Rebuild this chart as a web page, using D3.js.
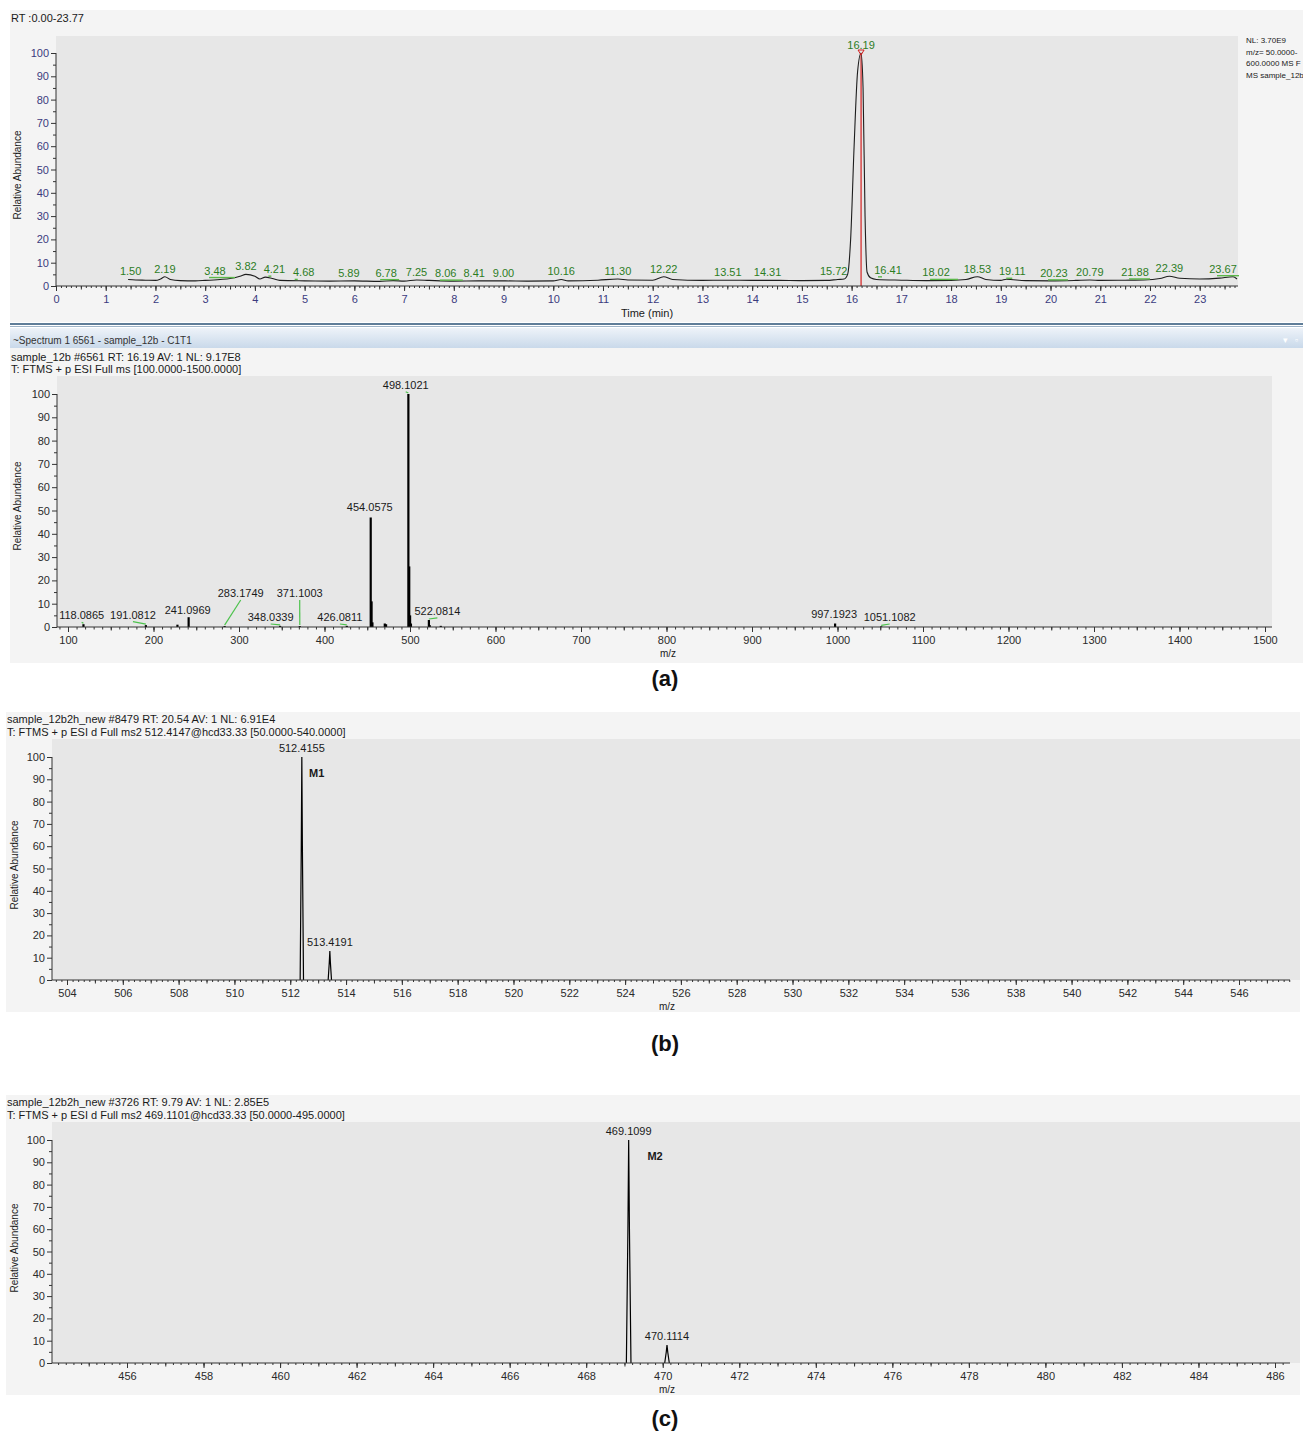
<!DOCTYPE html>
<html>
<head>
<meta charset="utf-8">
<script src="https://cdn.jsdelivr.net/npm/d3@7"></script>
<style>
body{margin:0;background:#fff;}
text{font-family:"Liberation Sans",Arial,sans-serif;}
</style>
</head>
<body>
<script>
// ---- chromatogram (a, top) ----
var chromTime = [1.45,1.6,1.8,2.0,2.1,2.19,2.3,2.5,2.8,3.0,3.3,3.5,3.7,3.82,4.0,4.1,4.21,4.35,4.5,5.0,5.5,6.0,6.5,6.78,7.0,7.25,7.5,8.0,8.5,9.0,9.5,10.0,10.16,10.3,10.9,11.3,11.5,12.0,12.22,12.4,13.0,13.5,14.0,14.5,15.0,15.5,15.72,15.85,15.92,15.98,16.05,16.12,16.19,16.23,16.27,16.31,16.38,16.5,17.0,17.5,18.0,18.3,18.53,18.7,19.0,19.11,19.5,20.0,20.5,20.79,21.0,21.5,21.88,22.2,22.39,22.6,23.0,23.4,23.67,23.75];
var chromAb   = [2.8,2.6,2.5,2.4,3.0,4.0,2.8,2.3,2.2,2.4,2.8,3.2,4.2,5.0,4.2,3.0,3.8,3.2,2.4,2.2,2.1,2.2,2.0,2.3,2.1,2.6,2.4,2.1,2.2,2.2,2.1,2.2,2.8,2.2,2.5,3.0,2.6,2.5,4.0,2.8,2.4,2.5,2.4,2.4,2.3,2.4,2.8,3.0,5,20,60,92,100,85,30,6,3.5,2.8,2.5,2.3,2.4,2.8,4.0,2.8,2.4,2.9,2.3,2.2,2.4,2.6,2.4,2.5,2.6,3.2,4.2,3.3,3.0,3.4,4.0,3.0];
var chromLabels = ["1.50","2.19","3.48","3.82","4.21","4.68","5.89","6.78","7.25","8.06","8.41","9.00","10.16","11.30","12.22","13.51","14.31","15.72","16.19","16.41","18.02","18.53","19.11","20.23","20.79","21.88","22.39","23.67"];
var chromMarked = ["3.48","4.21","4.68","6.78","8.06","16.41","18.02","19.11","20.23","21.88","23.67"];
var chromXTicks = [0,1,2,3,4,5,6,7,8,9,10,11,12,13,14,15,16,17,18,19,20,21,22,23];
var abTicks = [0,10,20,30,40,50,60,70,80,90,100];
var chromInfo = ["NL: 3.70E9","m/z= 50.0000-","600.0000 MS  F","MS sample_12b"];

// ---- full MS spectrum (a, bottom) ----
var specMz = [118.0865,191.0812,228.0,241.0969,283.1749,348.0339,371.1003,426.0811,454.0575,455.06,456.05,470.5,472.0,498.1021,499.105,500.1,501.1,522.0814,523.08,536.0,997.1923,1051.1082];
var specAb = [1.2,0.8,1.0,4.2,0.4,0.5,0.4,0.5,47,11,2,1.5,1.2,100,26,5,1.5,3,0.8,0.5,1.5,0.3];
var specLabels   = ["118.0865","191.0812","241.0969","283.1749","348.0339","371.1003","426.0811","454.0575","498.1021","522.0814","997.1923","1051.1082"];
var specLabelMz  = [116,176,240,302,337,371,418,453,495,532,996,1061];
var specLabelAb  = [5.0,5.3,7.3,14.6,4.3,14.6,4.3,51.5,104,6.9,5.6,4.3];
var specLeader = ["118.0865","191.0812","283.1749","348.0339","371.1003","426.0811","498.1021","522.0814","1051.1082"];
var specXTicks = [100,200,300,400,500,600,700,800,900,1000,1100,1200,1300,1400,1500];

// ---- MS2 M1 (b) ----
var m1Mz = [512.4155,513.4191];
var m1Ab = [100,13];
var m1XTicks = [504,506,508,510,512,514,516,518,520,522,524,526,528,530,532,534,536,538,540,542,544,546];

// ---- MS2 M2 (c) ----
var m2Mz = [469.1099,470.1114];
var m2Ab = [100,8];
var m2XTicks = [456,458,460,462,464,466,468,470,472,474,476,478,480,482,484,486];

var W = 1303, H = 1431;
var svg = d3.select("body").append("svg").attr("width",W).attr("height",H);

var panelBg = "#f4f4f4", plotBg = "#e7e7e7";
// pixel nudges for crowded chromatogram labels
var labelNudge = {"3.48":-14,"4.21":9,"4.68":15,"6.78":-7,"8.06":-11,"15.72":-4,"16.41":16,"18.02":-16,"19.11":6,"20.23":-8,"21.88":-9,"23.67":-10};

function txt(g,x,y,s,size,opt){
  opt = opt || {};
  return g.append("text").attr("x",x).attr("y",y)
    .attr("font-size",size).attr("fill",opt.fill||"#1a1a1a")
    .attr("text-anchor",opt.anchor||"start")
    .attr("font-weight",opt.weight||"normal")
    .attr("font-family",opt.family||null)
    .text(s);
}

// generic axes: y ticks every 10 (minor 5), x ticks with labels + minor steps
function drawAxes(g, x, y, o){
  var col = o.labelColor;
  var ya = g.append("g").attr("transform","translate("+x(x.domain()[0])+",0)");
  ya.append("g").call(d3.axisLeft(y).tickValues(abTicks).tickSize(5).tickPadding(2))
    .call(function(s){s.select(".domain").remove();});
  ya.append("g").call(d3.axisLeft(y).tickValues(d3.range(5,100,10)).tickSize(3).tickFormat(""))
    .call(function(s){s.select(".domain").remove();});
  ya.append("line").attr("y1",y(0)).attr("y2",y(100)).attr("stroke","#333");
  var xa = g.append("g").attr("transform","translate(0,"+y(0)+")");
  o.minor.forEach(function(m){
    var vals = d3.range(Math.ceil(x.domain()[0]/m[0])*m[0], x.domain()[1], m[0]);
    xa.append("g").call(d3.axisBottom(x).tickValues(vals).tickSize(m[1]).tickFormat(""))
      .call(function(s){s.select(".domain").remove();});
  });
  xa.append("g").call(d3.axisBottom(x).tickValues(o.ticks).tickSize(5).tickPadding(4).tickFormat(d3.format("d")))
    .call(function(s){s.select(".domain").remove();});
  xa.append("line").attr("x1",x(x.domain()[0])).attr("x2",x(x.domain()[1])).attr("stroke","#333");
  g.selectAll(".tick line").attr("stroke","#333");
  g.selectAll(".tick text").attr("fill",col).attr("font-size",11)
    .attr("font-family","'Liberation Sans',Arial,sans-serif");
}

// ================= panel (a) chromatogram =================
var gC = svg.append("g");
gC.append("rect").attr("x",10).attr("y",10).attr("width",W-10).attr("height",312).attr("fill",panelBg);
txt(gC,11,22,"RT :0.00-23.77",11);
var xC = d3.scaleLinear().domain([0,23.77]).range([56,1238]);
var yC = d3.scaleLinear().domain([0,100]).range([286,53]);
gC.append("rect").attr("x",xC(0)).attr("y",36).attr("width",xC(23.77)-xC(0)).attr("height",yC(0)-36).attr("fill",plotBg);
chromInfo.forEach(function(s,i){ txt(gC,1246,43+i*11.5,s,8); });

var chromPts = chromTime.map(function(t,i){return [t,chromAb[i]];});
var lineC = d3.line().x(function(d){return xC(d[0]);}).y(function(d){return yC(d[1]);}).curve(d3.curveMonotoneX);
gC.append("line").attr("x1",xC(16.19)).attr("x2",xC(16.19)).attr("y1",yC(100)).attr("y2",yC(0))
  .attr("stroke","#d42020").attr("stroke-width",1.2);
gC.append("path").datum(chromPts).attr("d",lineC).attr("fill","none").attr("stroke","#1e1e1e").attr("stroke-width",1.1);
gC.append("path").attr("d","M"+(xC(16.19)-3)+","+(yC(100)-3)+"h6l-3,5z").attr("fill","none").attr("stroke","#d42020");

var bis = d3.bisector(function(d){return d;}).center;
chromLabels.forEach(function(s){
  var t = +s, ab = chromAb[bis(chromTime,t)];
  var lx = xC(t) + (labelNudge[s]||0), ly = yC(ab)-4;
  txt(gC,lx,ly,s,11,{anchor:"middle",fill:"#2d7d1f"});
  if(chromMarked.indexOf(s)>=0){
    gC.append("line").attr("x1",lx-6).attr("x2",xC(t)+6)
      .attr("y1",ly+3).attr("y2",yC(ab)-1).attr("stroke","#5cb84a").attr("stroke-width",1.4);
  }
});
drawAxes(gC,xC,yC,{labelColor:"#3b3b7e",ticks:chromXTicks,minor:[[0.1,2],[0.5,3.5]]});
txt(gC,647,317,"Time (min)",11,{anchor:"middle"});
txt(gC,0,0,"Relative Abundance",10,{anchor:"middle"}).attr("transform","translate(21,175) rotate(-90)");

// separator + spectrum title bar
var defs = svg.append("defs");
var gr = defs.append("linearGradient").attr("id","bar").attr("x1",0).attr("x2",0).attr("y1",0).attr("y2",1);
gr.append("stop").attr("offset","0%").attr("stop-color","#eef3f9");
gr.append("stop").attr("offset","100%").attr("stop-color","#c9d9ea");
svg.append("rect").attr("x",10).attr("y",323).attr("width",W-10).attr("height",2).attr("fill","#5f7d98");
svg.append("rect").attr("x",10).attr("y",326).attr("width",W-10).attr("height",1).attr("fill","#9fb4c8");
svg.append("rect").attr("x",10).attr("y",328).attr("width",W-10).attr("height",20).attr("fill","url(#bar)");
txt(svg,13,344,"~Spectrum  1  6561 - sample_12b - C1T1",10,{family:"'Open Sans',sans-serif",fill:"#333"});
txt(svg,1283,343,"▾",9,{fill:"#fff"});
txt(svg,1295,343,"▫",9,{fill:"#fff"});

// ================= panel (a) spectrum =================
var gS = svg.append("g");
gS.append("rect").attr("x",10).attr("y",348).attr("width",W-10).attr("height",315).attr("fill",panelBg);
txt(gS,11,361,"sample_12b #6561 RT: 16.19 AV: 1 NL: 9.17E8",11);
txt(gS,11,373,"T: FTMS + p ESI Full ms [100.0000-1500.0000]",11);
var xS = d3.scaleLinear().domain([100,1500]).range([68,1265]);
xS.domain([xS.invert(57),xS.invert(1272)]).range([57,1272]);
var yS = d3.scaleLinear().domain([0,100]).range([627,394]);
gS.append("rect").attr("x",57).attr("y",376).attr("width",1272-57).attr("height",627-376).attr("fill",plotBg);
specMz.forEach(function(m,i){
  gS.append("line").attr("x1",xS(m)).attr("x2",xS(m)).attr("y1",yS(0)).attr("y2",yS(specAb[i]))
    .attr("stroke","#000").attr("stroke-width",2.2);
});
specLabels.forEach(function(s,i){
  var lx = xS(specLabelMz[i]), ly = yS(specLabelAb[i]);
  txt(gS,lx,ly+4,s,11,{anchor:"middle"});
  if(specLeader.indexOf(s)>=0){
    var m = +s, j = specMz.indexOf(m);
    gS.append("line").attr("x1",lx).attr("y1",ly+7).attr("x2",xS(m)).attr("y2",yS(specAb[j])-1)
      .attr("stroke","#4cc24c").attr("stroke-width",1.2);
  }
});
drawAxes(gS,xS,yS,{labelColor:"#2a2a2a",ticks:specXTicks,minor:[[10,2.5],[50,3.5]]});
txt(gS,668,657,"m/z",10,{anchor:"middle"});
txt(gS,0,0,"Relative Abundance",10,{anchor:"middle"}).attr("transform","translate(21,506) rotate(-90)");
txt(svg,665,686,"(a)",22,{anchor:"middle",weight:"bold",fill:"#111"});

// ================= MS2 panels =================
function ms2Panel(top, header, mz, ab, ticks, dom, rng, tag, markMz){
  var g = svg.append("g");
  g.append("rect").attr("x",6).attr("y",top).attr("width",1294).attr("height",300).attr("fill",panelBg);
  txt(g,7,top+11,header[0],11);
  txt(g,7,top+24,header[1],11);
  var x = d3.scaleLinear().domain(dom).range(rng);
  x.domain([x.invert(52),x.invert(1290)]).range([52,1290]);
  var y = d3.scaleLinear().domain([0,100]).range([top+268,top+45]);
  g.append("rect").attr("x",52).attr("y",top+27).attr("width",1300-52).attr("height",241).attr("fill",plotBg);
  var prof = d3.line().x(function(d){return x(d[0]);}).y(function(d){return y(d[1]);});
  mz.forEach(function(m,i){
    var pts = [[m-0.06,0],[m-0.02,ab[i]*0.6],[m,ab[i]],[m+0.02,ab[i]*0.6],[m+0.06,0]];
    g.append("path").datum(pts).attr("d",prof).attr("fill","none").attr("stroke","#000").attr("stroke-width",1.2);
    txt(g,x(m),y(ab[i])-5,d3.format(".4f")(m),11,{anchor:"middle"});
  });
  txt(g,x(markMz[0]),y(markMz[1])+4,tag,11,{anchor:"middle",weight:"bold"});
  drawAxes(g,x,y,{labelColor:"#2a2a2a",ticks:ticks,minor:[[0.2,2],[1,3.5]]});
  txt(g,667,top+298,"m/z",10,{anchor:"middle"});
  txt(g,0,0,"Relative Abundance",10,{anchor:"middle"}).attr("transform","translate(18,"+(top+153)+") rotate(-90)");
}
ms2Panel(712,["sample_12b2h_new #8479 RT: 20.54 AV: 1 NL: 6.91E4",
  "T: FTMS + p ESI d Full ms2 512.4147@hcd33.33 [50.0000-540.0000]"],
  m1Mz,m1Ab,m1XTicks,[504,546],[67,1239],"M1",[512.95,92.8]);
txt(svg,665,1051,"(b)",22,{anchor:"middle",weight:"bold",fill:"#111"});
ms2Panel(1095,["sample_12b2h_new #3726 RT: 9.79 AV: 1 NL: 2.85E5",
  "T: FTMS + p ESI d Full ms2 469.1101@hcd33.33 [50.0000-495.0000]"],
  m2Mz,m2Ab,m2XTicks,[456,486],[127,1275],"M2",[469.8,93]);
txt(svg,665,1426,"(c)",22,{anchor:"middle",weight:"bold",fill:"#111"});
</script>
</body>
</html>
